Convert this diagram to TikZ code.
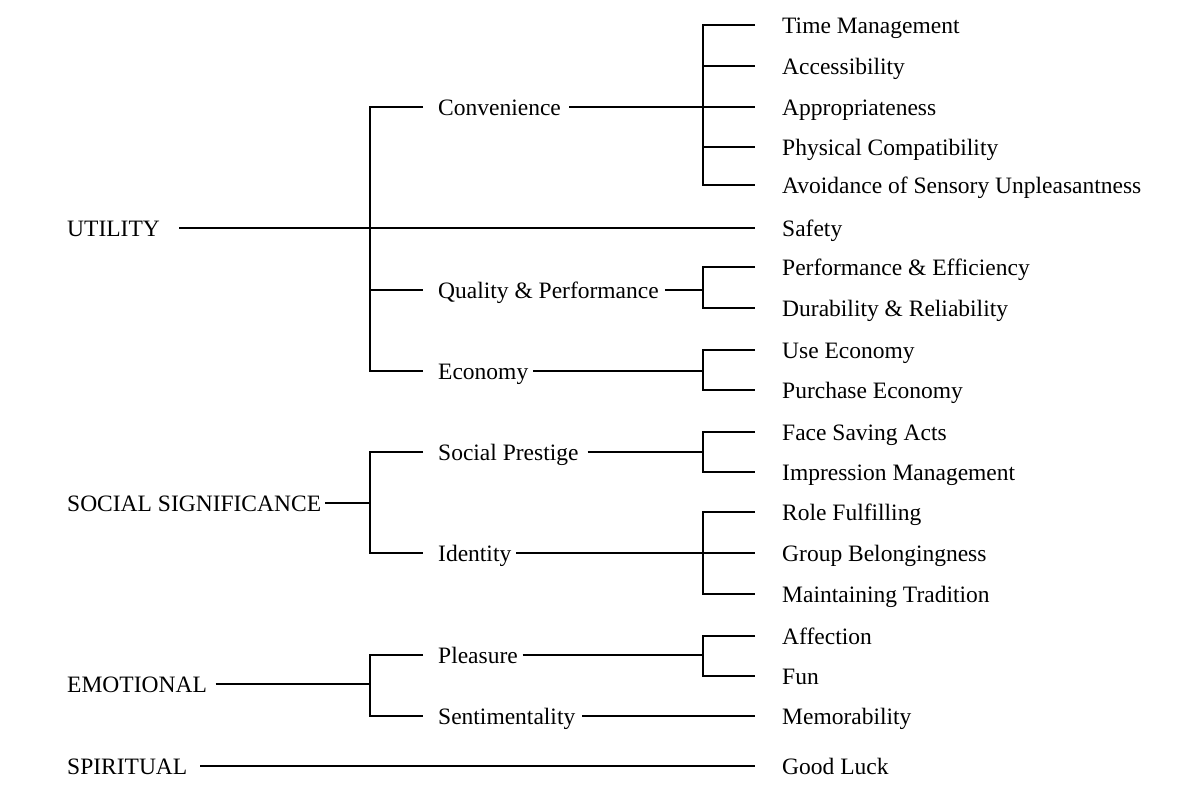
\documentclass[tikz,border=0pt]{standalone}
\usepackage{fontspec}
\setmainfont{Liberation Serif}
\usetikzlibrary{positioning}

\begin{document}
\begin{tikzpicture}[x=1pt, y=-1pt,
	every node/.style={anchor=west, inner sep=0pt, text height=17pt, text depth=1pt,
		font=\fontsize{23.5}{28}\selectfont},
	link/.style={line width=2pt}]
	\useasboundingbox (0,0) rectangle (1181,795);
	% value classes
	\node (util) at (67,228) {UTILITY};
	\node (soc) at (67,503) {SOCIAL SIGNIFICANCE};
	\node (emo) at (67,684) {EMOTIONAL};
	\node (spir) at (67,766) {SPIRITUAL};
	% middle level
	\node (conv) at (438,107) {Convenience};
	\node (qp) at (438,290) {Quality \& Performance};
	\node (econ) at (438,371) {Economy};
	\node (pres) at (438,452) {Social Prestige};
	\node (iden) at (438,553) {Identity};
	\node (plea) at (438,655) {Pleasure};
	\node (sent) at (438,716) {Sentimentality};
	% leaves
	\node (tm) at (782,25) {Time Management};
	\node (acc) at (782,66) {Accessibility};
	\node (app) at (782,107) {Appropriateness};
	\node (phys) at (782,147) {Physical Compatibility};
	\node (avoid) at (782,185) {Avoidance of Sensory Unpleasantness};
	\node (safe) at (782,228) {Safety};
	\node (pe) at (782,267) {Performance \& Efficiency};
	\node (dr) at (782,308) {Durability \& Reliability};
	\node (ue) at (782,350) {Use Economy};
	\node (pur) at (782,390) {Purchase Economy};
	\node (fsa) at (782,432) {Face Saving Acts};
	\node (im) at (782,472) {Impression Management};
	\node (rf) at (782,512) {Role Fulfilling};
	\node (gb) at (782,553) {Group Belongingness};
	\node (mt) at (782,594) {Maintaining Tradition};
	\node (aff) at (782,636) {Affection};
	\node (fun) at (782,676) {Fun};
	\node (mem) at (782,716) {Memorability};
	\node (luck) at (782,766) {Good Luck};
	% bracket columns
	\coordinate (hubA) at (370,0);
	\coordinate (hubB) at (703,0);

	% utility
	\draw[link] ([xshift=19pt]util.east) -- ([xshift=-27pt]safe.west);
	\draw[link] ([xshift=-15pt]conv.west) -- (hubA |- conv.west) -- (hubA |- econ.west) -- ([xshift=-15pt]econ.west);
	\draw[link] (hubA |- qp.west) -- ([xshift=-15pt]qp.west);
	\draw[link] ([xshift=8pt]conv.east) -- ([xshift=-27pt]app.west);
	\draw[link] ([xshift=-27pt]tm.west) -- (hubB |- tm.west) -- (hubB |- avoid.west) -- ([xshift=-27pt]avoid.west);
	\foreach \n in {acc,phys}
		\draw[link] (hubB |- \n.west) -- ([xshift=-27pt]\n.west);
	\draw[link] ([xshift=6pt]qp.east) -- (hubB |- qp.east);
	\draw[link] ([xshift=-27pt]pe.west) -- (hubB |- pe.west) -- (hubB |- dr.west) -- ([xshift=-27pt]dr.west);
	\draw[link] ([xshift=5pt]econ.east) -- (hubB |- econ.east);
	\draw[link] ([xshift=-27pt]ue.west) -- (hubB |- ue.west) -- (hubB |- pur.west) -- ([xshift=-27pt]pur.west);

	% social significance
	\draw[link] ([xshift=4pt]soc.east) -- (hubA |- soc.east);
	\draw[link] ([xshift=-15pt]pres.west) -- (hubA |- pres.west) -- (hubA |- iden.west) -- ([xshift=-15pt]iden.west);
	\draw[link] ([xshift=9pt]pres.east) -- (hubB |- pres.east);
	\draw[link] ([xshift=-27pt]fsa.west) -- (hubB |- fsa.west) -- (hubB |- im.west) -- ([xshift=-27pt]im.west);
	\draw[link] ([xshift=5pt]iden.east) -- ([xshift=-27pt]gb.west);
	\draw[link] ([xshift=-27pt]rf.west) -- (hubB |- rf.west) -- (hubB |- mt.west) -- ([xshift=-27pt]mt.west);

	% emotional
	\draw[link] ([xshift=8.5pt]emo.east) -- (hubA |- emo.east);
	\draw[link] ([xshift=-15pt]plea.west) -- (hubA |- plea.west) -- (hubA |- sent.west) -- ([xshift=-15pt]sent.west);
	\draw[link] ([xshift=4.5pt]plea.east) -- (hubB |- plea.east);
	\draw[link] ([xshift=-27pt]aff.west) -- (hubB |- aff.west) -- (hubB |- fun.west) -- ([xshift=-27pt]fun.west);
	\draw[link] ([xshift=7pt]sent.east) -- ([xshift=-27pt]mem.west);

	% spiritual
	\draw[link] ([xshift=12.5pt]spir.east) -- ([xshift=-27pt]luck.west);
\end{tikzpicture}
\end{document}
